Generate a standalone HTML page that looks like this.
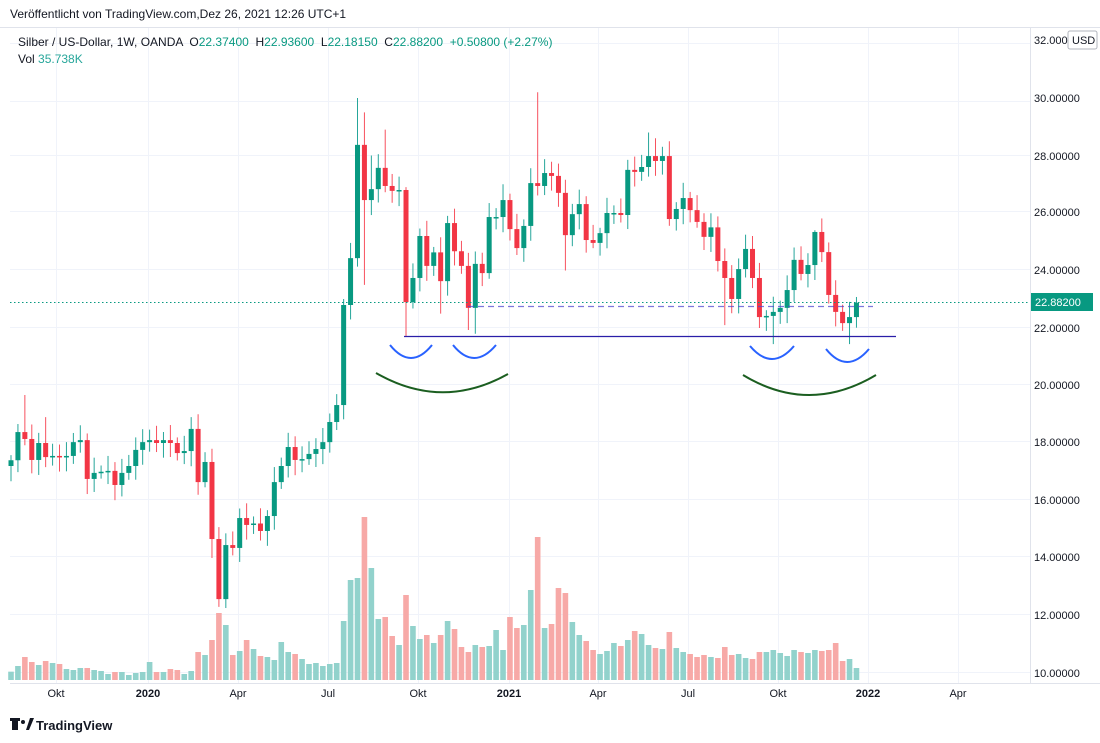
<!DOCTYPE html>
<html><head><meta charset="utf-8">
<style>
body{margin:0;background:#fff;width:1100px;height:743px;overflow:hidden;font-family:"Liberation Sans",sans-serif;}
svg{position:absolute;left:0;top:0}
</style></head><body>
<svg id="s" width="1100" height="743" xmlns="http://www.w3.org/2000/svg" font-family="Liberation Sans, sans-serif">
<rect width="1100" height="743" fill="#fff"/>
<g id="grid" stroke="#f0f3fa" stroke-width="1"></g>
<g id="vol"></g>
<g id="cand"></g>
<line x1="10" y1="302.5" x2="1030" y2="302.5" stroke="#089981" stroke-width="1" stroke-dasharray="1.5,2.5"/>
<line x1="468" y1="306.5" x2="873" y2="306.5" stroke="#5048d0" stroke-opacity="0.75" stroke-width="1.3" stroke-dasharray="6,4"/>
<line x1="404" y1="336.5" x2="896" y2="336.5" stroke="#2a1ea8" stroke-width="1.2"/>
<g fill="none" stroke="#2962ff" stroke-width="2">
<path d="M390 345 Q411 371 432 345"/>
<path d="M453 345 Q474 371 496 345"/>
<path d="M750 346 Q772 372 794 346"/>
<path d="M826 349 Q847 375 869 349"/>
</g>
<g fill="none" stroke="#1b5e20" stroke-width="2">
<path d="M376 373 Q442 411 508 374"/>
<path d="M743 375 Q809 415 876 375"/>
</g>
<line x1="1030.5" y1="28" x2="1030.5" y2="683" stroke="#e0e3eb"/>
<line x1="10" y1="683.5" x2="1100" y2="683.5" stroke="#e0e3eb"/>
<line x1="0" y1="27.5" x2="1100" y2="27.5" stroke="#e0e3eb"/>
<g font-size="11" fill="#131722">
<text x="1034" y="44">32.00000</text>
<text x="1034" y="102">30.00000</text>
<text x="1034" y="160">28.00000</text>
<text x="1034" y="216">26.00000</text>
<text x="1034" y="274">24.00000</text>
<text x="1034" y="332">22.00000</text>
<text x="1034" y="389">20.00000</text>
<text x="1034" y="446">18.00000</text>
<text x="1034" y="504">16.00000</text>
<text x="1034" y="561">14.00000</text>
<text x="1034" y="619">12.00000</text>
<text x="1034" y="677">10.00000</text>
</g>
<rect x="1068" y="31" width="29" height="18" rx="2" fill="#fff" stroke="#b2b5be"/>
<text x="1072" y="44" font-size="11" fill="#131722">USD</text>
<rect x="1031" y="293" width="62" height="18" fill="#089981"/>
<text x="1035" y="306" font-size="11" fill="#fff">22.88200</text>
<g font-size="11" fill="#131722" text-anchor="middle">
<text x="56" y="697">Okt</text>
<text x="148" y="697" font-weight="bold">2020</text>
<text x="238" y="697">Apr</text>
<text x="328" y="697">Jul</text>
<text x="418" y="697">Okt</text>
<text x="509" y="697" font-weight="bold">2021</text>
<text x="598" y="697">Apr</text>
<text x="688" y="697">Jul</text>
<text x="778" y="697">Okt</text>
<text x="868" y="697" font-weight="bold">2022</text>
<text x="958" y="697">Apr</text>
</g>
<text x="10" y="18" font-size="12" fill="#131722">Veröffentlicht von TradingView.com,Dez 26, 2021 12:26 UTC+1</text>
<text x="18" y="46" font-size="12" fill="#131722" xml:space="preserve">Silber / US-Dollar, 1W, OANDA  <tspan>O</tspan><tspan fill="#089981">22.37400</tspan>  <tspan>H</tspan><tspan fill="#089981">22.93600</tspan>  <tspan>L</tspan><tspan fill="#089981">22.18150</tspan>  <tspan>C</tspan><tspan fill="#089981">22.88200</tspan>  <tspan fill="#089981">+0.50800 (+2.27%)</tspan></text>
<text x="18" y="63" font-size="12" fill="#131722">Vol <tspan fill="#26a69a">35.738K</tspan></text>
<g transform="translate(12,718)">
<rect x="0" y="0" width="6" height="12" fill="#131722"/><rect x="-2" y="0" width="10" height="3" fill="#131722"/>
<circle cx="11" cy="4" r="2" fill="#131722"/><path d="M14 12 L18 0 L22 0 L17 12Z" fill="#131722"/>
</g>
<text x="36" y="730" font-size="13" font-weight="bold" fill="#131722">TradingView</text>
</svg>
<script>
var C=[17.4,18.38,18.14,17.41,18.0,17.51,17.55,17.51,17.55,18.03,18.1,16.75,16.96,17.0,17.03,16.54,16.96,17.2,17.76,18.03,18.1,18.0,18.1,18.0,17.65,17.72,18.49,16.64,17.34,14.66,12.57,14.45,14.35,15.39,15.15,15.2,14.94,15.46,16.64,17.2,17.86,17.41,17.44,17.62,17.79,18.03,18.73,19.32,22.8,24.43,28.37,26.45,26.83,27.57,26.94,26.77,26.8,22.9,23.74,25.2,24.16,24.63,23.63,25.65,24.67,24.16,22.7,24.23,23.91,25.86,25.86,26.45,25.44,24.78,25.55,27.04,26.94,27.39,27.29,26.7,25.23,25.96,26.31,25.06,24.96,25.3,26.0,26.0,25.93,27.5,27.43,27.6,27.98,27.81,27.98,25.79,26.14,26.52,26.1,25.69,25.17,25.5,24.33,23.74,23.01,24.05,24.75,23.74,22.38,22.42,22.56,22.7,23.32,24.37,23.88,24.19,25.34,24.64,23.15,22.56,22.17,22.38,22.88];
var VZ=[515,498,471,486,495,483,489,492,507,510,504,504,510,513,522,516,516,525,519,516,486,516,516,507,510,522,513,456,465,420,339,375,465,453,420,447,468,471,480,426,456,462,477,492,489,498,492,489,363,240,234,51,204,357,351,408,435,285,378,417,405,429,405,363,387,441,456,435,441,438,390,450,351,384,375,270,111,384,372,264,279,366,405,423,450,462,453,429,438,420,393,402,435,444,447,396,444,456,462,471,465,471,474,441,465,462,474,477,456,456,450,459,468,450,456,459,450,453,450,429,483,477,504];
var HI={1:18.66,2:19.67,5:18.9,26:18.9,27:19.0,29:17.8,47:19.7,50:30.0,51:29.5,52:28.0,54:28.9,57:26.9,63:25.9,71:27.0,76:30.2,92:28.8,93:28.6,113:24.8,116:25.4,107:25.2};
var LO={29:14.0,30:12.3,31:12.26,51:23.5,57:21.7,66:21.93,67:21.8,103:22.1,108:22.0,109:21.9,110:21.44,120:21.9,121:21.44,62:22.5,80:24.0};
function y(p){return 673-(p-10)*28.75;}
var ns="http://www.w3.org/2000/svg",g=document.getElementById('cand'),vg=document.getElementById('vol'),gr=document.getElementById('grid');
function el(t,a,par){var e=document.createElementNS(ns,t);for(var k in a)e.setAttribute(k,a[k]);par.appendChild(e);return e;}
[44,102,156,212,270,328,385,442,500,557,615,673].forEach(function(v){el('line',{x1:10,x2:1030,y1:v-0.5,y2:v-0.5},gr);});
[56,148,238,328,418,509,598,688,778,868,958].forEach(function(v){el('line',{x1:v+0.5,x2:v+0.5,y1:28,y2:683},gr);});
var prev=17.2;
for(var i=0;i<C.length;i++){
 var o=prev,c=C[i];prev=c;
 var x=11+i*6.93,up=c>=o,col=up?'#089981':'#f23645',wc=up?'#26a69a':'#f7525f';
 var n1=0.18+0.35*Math.abs(Math.sin(i*1.7)),n2=0.18+0.35*Math.abs(Math.cos(i*2.3));
 var h=HI[i]!==undefined?HI[i]:Math.max(o,c)+n1, l=LO[i]!==undefined?LO[i]:Math.min(o,c)-n2;
 el('line',{x1:x,x2:x,y1:y(h),y2:y(l),stroke:wc,'stroke-width':1},g);
 var t=y(Math.max(o,c)),b=y(Math.min(o,c));if(b-t<1.5){b=t+1.5;}
 el('rect',{x:x-2.5,y:t,width:5,height:b-t,fill:col},g);
 var vh=(540-VZ[i])/3;
 el('rect',{x:x-2.8,y:680-vh,width:5.6,height:vh,fill:up?'#92d2cc':'#f7a9a7'},vg);
}
</script>
</body></html>
